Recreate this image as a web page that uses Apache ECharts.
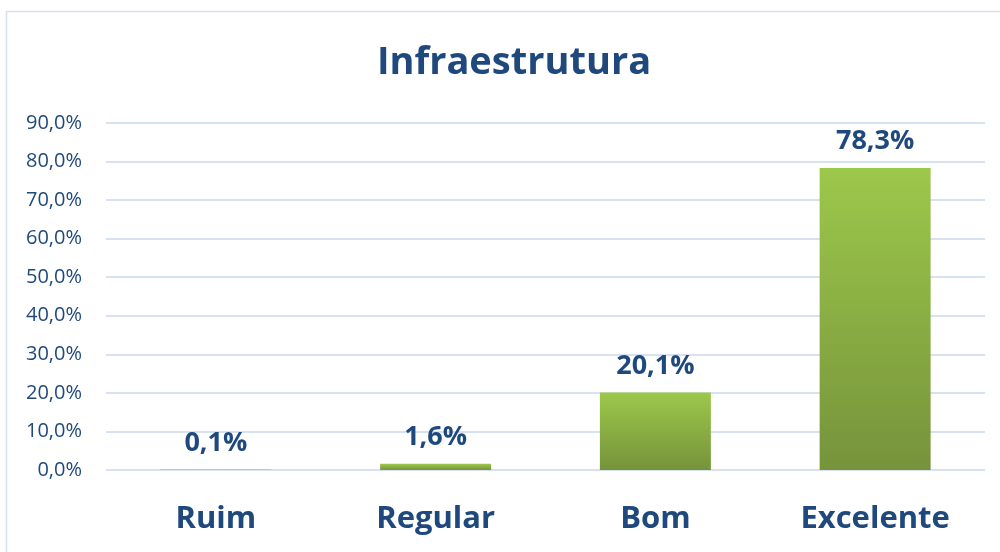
<!DOCTYPE html>
<html><head><meta charset="utf-8">
<script src="https://cdn.jsdelivr.net/npm/echarts@6/dist/echarts.min.js"></script>
<style>html,body{margin:0;padding:0;background:#fff}#c{width:1000px;height:552px}</style>
</head><body><div id="c"></div>
<script>
const categories = ['Ruim', 'Regular', 'Bom', 'Excelente'];
const values = [0.1, 1.6, 20.1, 78.3];
const titleText = 'Infraestrutura';
const textColor = '#1f497d';
const fmt = v => v.toFixed(1).replace('.', ',') + '%';
const chart = echarts.init(document.getElementById('c'));
chart.setOption({
  animation: false,
  title: { text: titleText, left: 509, textAlign: 'center', top: 39, textStyle: { fontFamily: 'Open Sans', fontWeight: 'bold', fontSize: 38, color: textColor } },
  graphic: [{ type: 'rect', shape: { x: 6.5, y: 11.5, width: 1000, height: 600 }, style: { fill: 'none', stroke: '#d6e0ef', lineWidth: 1.5 }, silent: true, z: -1 }],
  grid: { left: 106, right: 15, top: 123, bottom: 82 },
  xAxis: {
    type: 'category', data: categories,
    axisLine: { show: false }, axisTick: { show: false },
    axisLabel: { margin: 34, fontFamily: 'Open Sans', fontWeight: 'bold', fontSize: 31, color: textColor }
  },
  yAxis: {
    type: 'value', min: 0, max: 90, interval: 10,
    axisLine: { show: false }, axisTick: { show: false },
    axisLabel: { formatter: v => fmt(v), margin: 24, fontFamily: 'Open Sans', fontSize: 20, color: textColor },
    splitLine: { lineStyle: { color: '#d6e2f2', width: 2 } }
  },
  series: [{
    type: 'bar', data: values, barWidth: '50.5%',
    itemStyle: { color: new echarts.graphic.LinearGradient(0, 0, 0, 1, [{ offset: 0, color: '#9cc84b' }, { offset: 1, color: '#76933b' }]) },
    label: { show: true, position: 'top', distance: 13, formatter: p => fmt(p.value), fontFamily: 'Open Sans', fontWeight: 'bold', fontSize: 27, color: textColor }
  }]
});
</script></body></html>
